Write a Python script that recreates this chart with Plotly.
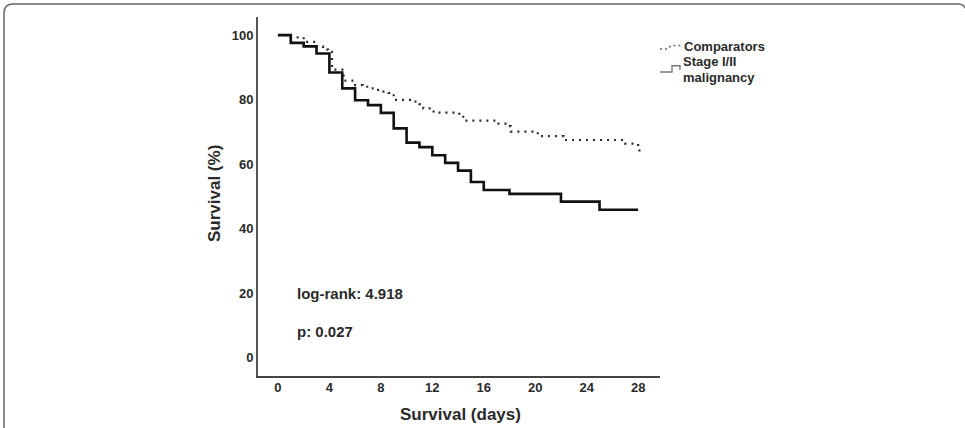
import plotly.graph_objects as go

W, H = 965, 428

# ---------------- data ----------------
stage_days = [0, 1, 2, 3, 4, 5, 6, 7, 8, 9, 10, 11, 12, 13, 14, 15, 16, 18, 22, 25, 28]
stage_surv = [100, 97.6, 96.5, 94.3, 88.4, 83.5, 79.8, 78.3, 75.9, 71.1, 66.7, 65.3,
              62.8, 60.4, 58.0, 54.5, 52.0, 50.8, 48.4, 45.9, 45.9]

comp_days = [0, 1.0, 2.0, 3.0, 3.5, 3.9, 4.2, 5.1, 6.0, 6.6, 7.1, 7.6, 8.1, 8.6, 9.0,
             10.6, 11.0, 11.3, 12.1, 14.1, 14.4, 17.0, 17.9, 18.1, 20.2, 22.2, 27.0,
             28.0, 28.1]
comp_surv = [100, 99.3, 97.9, 96.5, 95.5, 94.8, 89.3, 85.9, 84.5, 84.0, 83.5, 83.0, 82.5,
             82.1, 79.9, 79.4, 78.6, 77.3, 76.0, 74.7, 73.5, 72.6, 71.8, 70.1, 68.7,
             67.5, 66.4, 65.4, 63.3]

x_ticks = [0, 4, 8, 12, 16, 20, 24, 28]
y_ticks = [0, 20, 40, 60, 80, 100]

series_names = ["Comparators", "Stage I/II<br>malignancy"]
x_title = "Survival (days)"
y_title = "Survival (%)"
stats_text = ["log-rank: 4.918", "p: 0.027"]


def px(x):
    return x / W


def py(y):
    return 1 - y / H


FONT = "Liberation Sans, Arial, sans-serif"
TXT = "#2a2a2a"

fig = go.Figure()
fig.add_trace(go.Scatter(
    x=comp_days, y=comp_surv, mode="lines", line_shape="hv",
    line=dict(color="#2b2b2b", width=2.2, dash="2px,5px"),
    name=series_names[0], showlegend=False, hoverinfo="skip"))
fig.add_trace(go.Scatter(
    x=stage_days, y=stage_surv, mode="lines", line_shape="hv",
    line=dict(color="#111111", width=2.6),
    name=series_names[1], showlegend=False, hoverinfo="skip"))

fig.update_layout(
    width=W, height=H,
    margin=dict(l=0, r=0, t=0, b=0),
    paper_bgcolor="white", plot_bgcolor="white",
    font=dict(family=FONT, color=TXT),
    xaxis=dict(
        domain=[px(258), px(660)], range=[-1.55, 29.7],
        tickvals=x_ticks, ticktext=[f"<b>{v}</b>" for v in x_ticks],
        tickfont=dict(size=13, color=TXT, family=FONT),
        showgrid=False, zeroline=False, showline=True, linecolor="#444", linewidth=2,
        ticks="", ticklabelstandoff=-2, fixedrange=True),
    yaxis=dict(
        domain=[py(376), py(17)], range=[-5.6, 105.6],
        tickvals=y_ticks, ticktext=[f"<b>{v}</b>" for v in y_ticks],
        tickfont=dict(size=13, color=TXT, family=FONT),
        showgrid=False, zeroline=False, showline=True, linecolor="#555", linewidth=2,
        ticks="", ticklabelstandoff=0, fixedrange=True),
)

ann = []
ann.append(dict(x=px(460), y=py(414), xref="paper", yref="paper", showarrow=False,
                text=f"<b>{x_title}</b>", font=dict(size=17, color=TXT),
                xanchor="center", yanchor="middle"))
ann.append(dict(x=px(214), y=py(194), xref="paper", yref="paper", showarrow=False,
                text=f"<b>{y_title}</b>", font=dict(size=17, color=TXT), textangle=-90,
                xanchor="center", yanchor="middle"))
ann.append(dict(x=px(295), y=py(293), xref="paper", yref="paper", showarrow=False,
                text=f"<b>{stats_text[0]}</b>", font=dict(size=15, color=TXT),
                xanchor="left", yanchor="middle"))
ann.append(dict(x=px(295), y=py(331), xref="paper", yref="paper", showarrow=False,
                text=f"<b>{stats_text[1]}</b>", font=dict(size=15, color=TXT),
                xanchor="left", yanchor="middle"))
# legend texts
ann.append(dict(x=px(682), y=py(46.5), xref="paper", yref="paper", showarrow=False,
                text=f"<b>{series_names[0]}</b>", font=dict(size=13, color=TXT),
                xanchor="left", yanchor="middle"))
l2 = series_names[1].split("<br>")
ann.append(dict(x=px(682), y=py(62), xref="paper", yref="paper", showarrow=False,
                text=f"<b>{l2[0]}</b>", font=dict(size=13, color=TXT),
                xanchor="left", yanchor="middle", borderpad=0))
ann.append(dict(x=px(682), y=py(77), xref="paper", yref="paper", showarrow=False,
                text=f"<b>{l2[1]}</b>", font=dict(size=13, color=TXT),
                xanchor="left", yanchor="middle", borderpad=0))
fig.update_layout(annotations=ann)


def path(points):
    return "M " + " L ".join(f"{px(a):.5f},{py(b):.5f}" for a, b in points)


shapes = []
# legend symbol: comparators (dotted rising step)
shapes.append(dict(type="path", xref="paper", yref="paper",
                   path=path([(660, 49), (668, 49), (671, 45.5), (681, 45.5)]),
                   line=dict(color="#666", width=1.6, dash="2px,3px")))
# legend symbol: stage I/II (step)
shapes.append(dict(type="path", xref="paper", yref="paper",
                   path=path([(660, 72), (672, 72), (672, 65.7), (680, 65.7), (680, 70)]),
                   line=dict(color="#777", width=1.4)))
# rounded frame (right side runs off the picture)
r = 9
frame = (f"M {px(4):.5f},{py(430):.5f} L {px(4):.5f},{py(4 + r):.5f} "
         f"Q {px(4):.5f},{py(4):.5f} {px(4 + r):.5f},{py(4):.5f} "
         f"L {px(958):.5f},{py(4):.5f} "
         f"Q {px(966):.5f},{py(4):.5f} {px(967):.5f},{py(14):.5f} "
         f"L {px(967):.5f},{py(430):.5f}")
shapes.append(dict(type="path", xref="paper", yref="paper", path=frame,
                   line=dict(color="#666", width=1.5)))
fig.update_layout(shapes=shapes)

fig.write_html("out.html", config={"displayModeBar": False})
